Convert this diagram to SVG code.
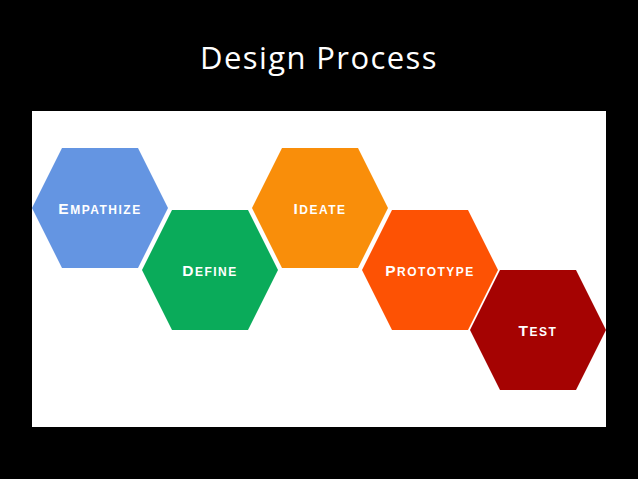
<svg xmlns="http://www.w3.org/2000/svg" width="638" height="479" viewBox="0 0 638 479">
  <defs>
    <!-- flat-topped hexagon centred on the origin -->
    <polygon id="hex" points="-38,-60 38,-60 68,0 38,60 -38,60 -68,0"/>
    <style>
      .title { font-family: "Open Sans", "Liberation Sans", sans-serif; font-size: 31px; fill: #ffffff; text-anchor: middle; letter-spacing: 1.4px; }
      .lbl { font-family: "Liberation Sans", "Arial", sans-serif; font-weight: 700; font-size: 12px; fill: #ffffff; text-anchor: middle; letter-spacing: 1.5px; }
      .cap { font-size: 15.5px; }
    </style>
  </defs>

  <rect x="0" y="0" width="638" height="479" fill="#000000"/>
  <text class="title" x="319" y="69">Design Process</text>

  <rect x="32" y="111" width="574" height="316" fill="#ffffff"/>

  <g id="empathize" transform="translate(100,208)">
    <use href="#hex" fill="#6495e2"/>
    <text class="lbl" x="0" y="5.5"><tspan class="cap">E</tspan>MPATHIZE</text>
  </g>
  <g id="define" transform="translate(210,270)">
    <use href="#hex" fill="#0aab5a"/>
    <text class="lbl" x="0" y="5.5"><tspan class="cap">D</tspan>EFINE</text>
  </g>
  <g id="ideate" transform="translate(320,208)">
    <use href="#hex" fill="#f98e0a"/>
    <text class="lbl" x="0" y="5.5"><tspan class="cap">I</tspan>DEATE</text>
  </g>
  <g id="prototype" transform="translate(430,270)">
    <use href="#hex" fill="#fd5204"/>
    <text class="lbl" x="0" y="5.5"><tspan class="cap">P</tspan>ROTOTYPE</text>
  </g>
  <g id="test" transform="translate(538,330)">
    <use href="#hex" fill="#a50302"/>
    <text class="lbl" x="0" y="5.5"><tspan class="cap">T</tspan>EST</text>
  </g>

  <g id="connectors"/>
</svg>
